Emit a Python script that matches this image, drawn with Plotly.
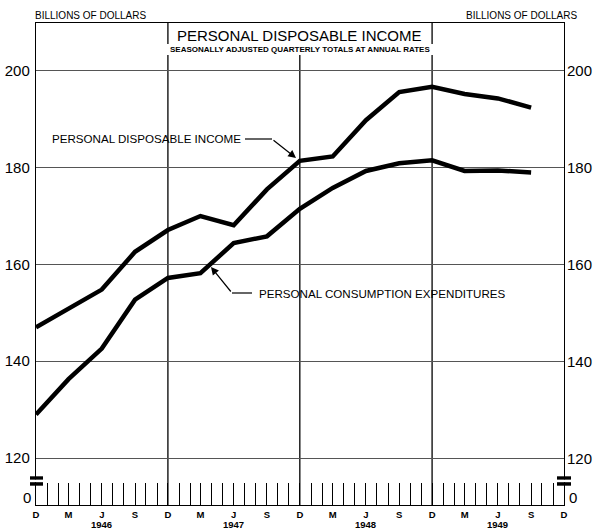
import plotly.graph_objects as go

# ---- data ----
quarters = ["1945-12-01", "1946-03-01", "1946-06-01", "1946-09-01",
            "1946-12-01", "1947-03-01", "1947-06-01", "1947-09-01",
            "1947-12-01", "1948-03-01", "1948-06-01", "1948-09-01",
            "1948-12-01", "1949-03-01", "1949-06-01", "1949-09-01"]
income = [147.0, 150.9, 154.8, 162.6, 167.1, 170.0, 168.1, 175.5,
          181.4, 182.3, 189.8, 195.6, 196.7, 195.2, 194.3, 192.4]
consumption = [129.0, 136.3, 142.6, 152.7, 157.2, 158.2, 164.4, 165.8,
               171.5, 175.8, 179.3, 180.9, 181.5, 179.3, 179.4, 179.0]
month_labels = ["D", "M", "J", "S"]
year_labels = ["1946", "1947", "1948", "1949"]
tick_dates = quarters + ["1949-12-01"]
y_ticks = [120, 140, 160, 180, 200]

# ---- layout geometry (pixels) ----
WIDTH, HEIGHT = 593, 529
L, R, T, B = 36, 29, 23, 24
W = WIDTH - L - R
H = HEIGHT - T - B
BOT = HEIGHT - B
Y_MIN, Y_MAX = 110.29, 209.88


def px(x):
    return (x - L) / W


def py(y):
    return (BOT - y) / H


FONT = "Liberation Sans"
NUM_SIZE = 15

ticktext = [f"<b>{month_labels[i % 4]}</b>" for i in range(len(tick_dates))]

fig = go.Figure()
fig.add_trace(go.Scatter(x=quarters, y=income, mode="lines",
                         line=dict(color="black", width=4.5),
                         hoverinfo="skip", showlegend=False))
fig.add_trace(go.Scatter(x=quarters, y=consumption, mode="lines",
                         line=dict(color="black", width=4.5),
                         hoverinfo="skip", showlegend=False))

shapes = []
# year divider lines (December)
for i, yr in enumerate(year_labels[:-1]):
    xd = f"{yr}-12-01"
    shapes.append(dict(type="line", xref="x", yref="paper", x0=xd, x1=xd,
                       y0=0, y1=py(55), line=dict(color="black", width=1.3),
                       layer="below"))
    if i != 1:
        shapes.append(dict(type="line", xref="x", yref="paper", x0=xd, x1=xd,
                           y0=py(44), y1=1, line=dict(color="black", width=1.3),
                           layer="below"))

# axis break marks
for (x0, x1) in [(30, 43), (557, 571)]:
    shapes.append(dict(type="rect", xref="paper", yref="paper",
                       x0=px(x0), x1=px(x1), y0=py(479.8), y1=py(476.3),
                       fillcolor="black", line=dict(width=0), layer="above"))
    shapes.append(dict(type="rect", xref="paper", yref="paper",
                       x0=px(x0), x1=px(x1), y0=py(482.2), y1=py(479.8),
                       fillcolor="white", line=dict(width=0), layer="above"))
    shapes.append(dict(type="rect", xref="paper", yref="paper",
                       x0=px(x0), x1=px(x1), y0=py(485.7), y1=py(482.2),
                       fillcolor="black", line=dict(width=0), layer="above"))

# leader lines
shapes.append(dict(type="line", xref="paper", yref="paper",
                   x0=px(245), x1=px(272), y0=py(139), y1=py(139),
                   line=dict(color="black", width=1.2)))
shapes.append(dict(type="line", xref="paper", yref="paper",
                   x0=px(232), x1=px(252), y0=py(293), y1=py(293),
                   line=dict(color="black", width=1.2)))

annotations = [
    dict(text="BILLIONS OF DOLLARS", xref="paper", yref="paper",
         x=px(33), y=py(15), xanchor="left", yanchor="middle",
         showarrow=False, font=dict(family=FONT, size=10, color="black")),
    dict(text="BILLIONS OF DOLLARS", xref="paper", yref="paper",
         x=px(579), y=py(15), xanchor="right", yanchor="middle",
         showarrow=False, font=dict(family=FONT, size=10, color="black")),
    dict(text="PERSONAL DISPOSABLE INCOME", xref="paper", yref="paper",
         x=px(299), y=py(35), xanchor="center", yanchor="middle",
         showarrow=False, font=dict(family=FONT, size=15, color="black")),
    dict(text="<b>SEASONALLY ADJUSTED QUARTERLY TOTALS AT ANNUAL RATES</b>",
         xref="paper", yref="paper",
         x=px(300), y=py(49), xanchor="center", yanchor="middle",
         showarrow=False, font=dict(family=FONT, size=8, color="black")),
    dict(text="PERSONAL DISPOSABLE INCOME", xref="paper", yref="paper",
         x=px(50), y=py(138), xanchor="left", yanchor="middle",
         showarrow=False, font=dict(family=FONT, size=11.6, color="black")),
    dict(text="PERSONAL CONSUMPTION EXPENDITURES", xref="paper", yref="paper",
         x=px(257), y=py(293), xanchor="left", yanchor="middle",
         showarrow=False, font=dict(family=FONT, size=11.6, color="black")),
    # arrows
    dict(text="", xref="paper", yref="paper", x=px(296), y=py(158),
         axref="pixel", ayref="pixel", ax=-24, ay=-19, showarrow=True,
         arrowhead=2, arrowsize=1.3, arrowwidth=1.2, arrowcolor="black"),
    dict(text="", xref="paper", yref="paper", x=px(211), y=py(267),
         axref="pixel", ayref="pixel", ax=21, ay=26, showarrow=True,
         arrowhead=2, arrowsize=1.3, arrowwidth=1.2, arrowcolor="black"),
    # zero labels
    dict(text="0", xref="paper", yref="paper", x=px(33), y=py(497),
         xanchor="right", yanchor="middle", showarrow=False,
         font=dict(family=FONT, size=NUM_SIZE, color="black")),
    dict(text="0", xref="paper", yref="paper", x=px(567), y=py(497),
         xanchor="left", yanchor="middle", showarrow=False,
         font=dict(family=FONT, size=NUM_SIZE, color="black")),
]
# year labels under the month labels
for yr in year_labels:
    annotations.append(dict(text=f"<b>{yr}</b>", xref="x", yref="paper",
                            x=f"{yr}-06-01", y=py(524.5), xanchor="center",
                            yanchor="middle", showarrow=False,
                            font=dict(family=FONT, size=9.5, color="black")))
# right-side tick labels
for v in y_ticks:
    annotations.append(dict(text=str(v), xref="paper", yref="y", x=1, y=v,
                            xanchor="left", yanchor="middle", xshift=1,
                            showarrow=False,
                            font=dict(family=FONT, size=NUM_SIZE,
                                      color="black")))

fig.update_layout(
    width=WIDTH, height=HEIGHT,
    margin=dict(l=L, r=R, t=T, b=B, pad=0, autoexpand=False),
    paper_bgcolor="white", plot_bgcolor="white",
    shapes=shapes, annotations=annotations,
    xaxis=dict(
        type="date", range=["1945-12-01", "1949-12-01"],
        tickmode="array", tickvals=tick_dates, ticktext=ticktext,
        ticks="inside", ticklen=22, tickcolor="black", tickwidth=1,
        minor=dict(dtick="M1", tick0="1945-12-01", ticks="inside",
                   ticklen=22, tickcolor="black", tickwidth=1),
        showgrid=False, zeroline=False, automargin=False,
        showline=True, linecolor="black", linewidth=1.4, mirror=True,
        tickfont=dict(family=FONT, size=9.5, color="black"),
        ticklabelstandoff=0,
    ),
    yaxis=dict(
        range=[Y_MIN, Y_MAX], tickmode="array", tickvals=y_ticks,
        showgrid=True, gridcolor="#555", gridwidth=0.8, zeroline=False,
        showline=True, linecolor="black", linewidth=1.4, mirror=True,
        automargin=False,
        ticks="", tickfont=dict(family=FONT, size=NUM_SIZE, color="black"),
        ticklabelstandoff=2,
    ),
)

fig.write_html(
    "out.html",
    config={"displayModeBar": False},
    post_script="document.body.style.margin='0';"
                "document.body.style.overflow='hidden';",
)
